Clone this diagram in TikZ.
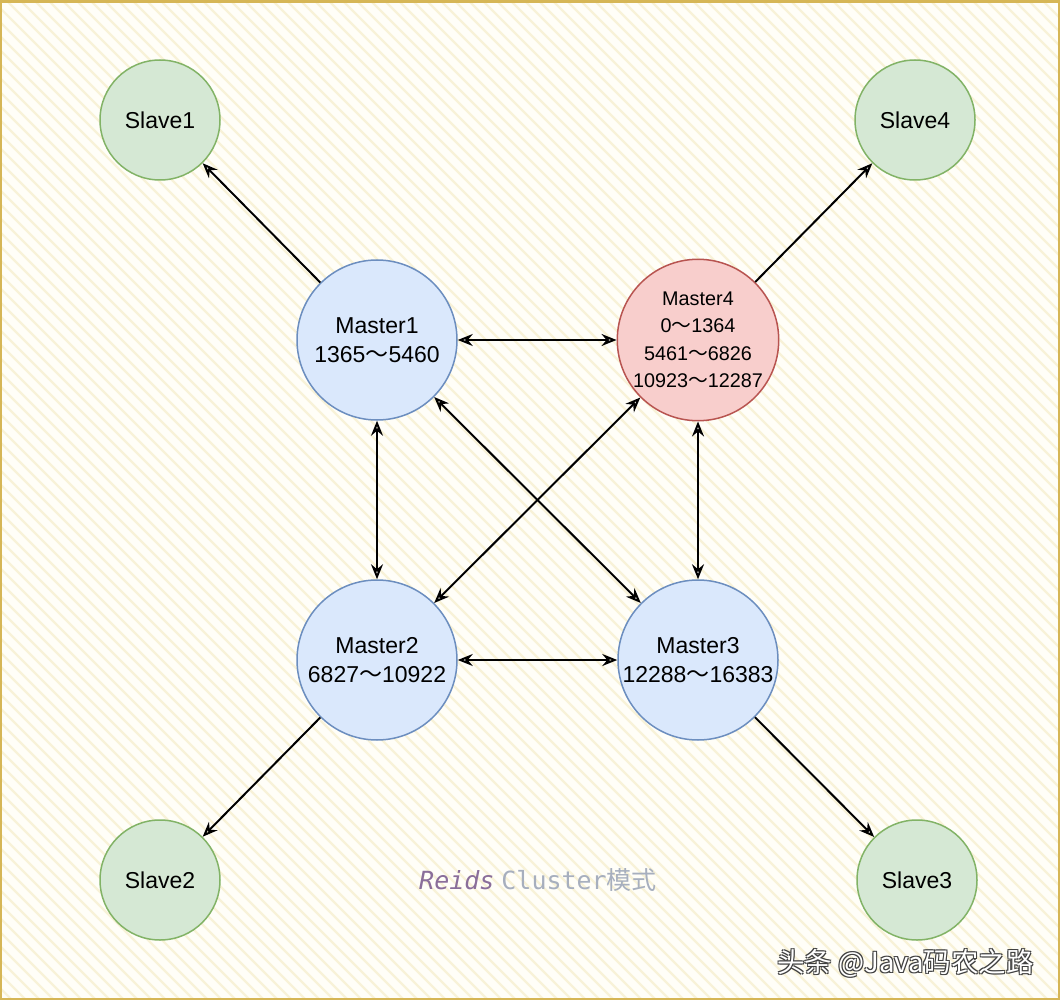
\documentclass[tikz,border=0pt]{standalone}
\usepackage{fontspec}
\setmainfont{Liberation Sans}
\newfontfamily\cjk{Noto Sans CJK SC}
\newfontfamily\mymono{DejaVu Sans Mono}
\usetikzlibrary{arrows.meta}
\definecolor{bgcream}{HTML}{FFFEF8}
\definecolor{hatchc}{HTML}{F8F2D8}
\definecolor{framec}{HTML}{D6B656}
\definecolor{gfill}{HTML}{D5E8D4}
\definecolor{gline}{HTML}{82B366}
\definecolor{bfill}{HTML}{DAE8FC}
\definecolor{bline}{HTML}{6C8EBF}
\definecolor{rfill}{HTML}{F8CECC}
\definecolor{rline}{HTML}{B85450}
\definecolor{purp}{HTML}{8A6E9A}
\definecolor{graytxt}{HTML}{A7AFBE}
\newcommand\sq{{\cjk ～}}
\tikzset{
  slave/.style={circle,draw=gline,fill=gfill,line width=1.5pt,minimum size=120pt,inner sep=0pt,
    font=\fontsize{23}{28}\selectfont},
  master/.style={circle,draw=bline,fill=bfill,line width=1.5pt,minimum size=160pt,inner sep=0pt,
    align=center,font=\fontsize{23}{29}\selectfont},
  redmaster/.style={circle,draw=rline,fill=rfill,line width=1.5pt,minimum size=160pt,inner sep=0pt,
    align=center,font=\fontsize{19.8}{27.5}\selectfont},
  conn/.style={line width=2pt,-{Stealth[open,length=15pt,width=12pt,inset=5pt]}},
  biconn/.style={line width=2pt,{Stealth[open,length=15pt,width=12pt,inset=5pt]}-{Stealth[open,length=15pt,width=12pt,inset=5pt]}},
  hatch/.style={hatchc,line width=2.2pt},
  wm/.style={font=\cjk\fontsize{27.5}{32}\selectfont,inner sep=0pt}
}
\begin{document}
\begin{tikzpicture}[x=1pt,y=-1pt]
\useasboundingbox (0,0) rectangle (1060,1000);
\fill[bgcream] (0,0) rectangle (1060,1000);
\begin{scope}
  \clip (0,0) rectangle (1060,1000);
  \foreach \i in {-1100,-1086,...,1070} \draw[hatch] (\i,0) -- ++(1000,1000);
\end{scope}
\draw[framec,line width=2pt] (1,1.5) rectangle (1059,999);
\draw[framec,line width=3.5pt] (0,1.5) -- (1060,1.5);

\node[slave] (s1) at (160,120) {Slave1};
\node[slave] (s4) at (915,120) {Slave4};
\node[slave] (s2) at (160,880) {Slave2};
\node[slave] (s3) at (917,880) {Slave3};

\node[master] (m1) at (377,340) {Master1\\1365\sq5460};
\node[redmaster] (m4) at (698,340) {Master4\\0\sq1364\\5461\sq6826\\10923\sq12287};
\node[master] (m2) at (377,660) {Master2\\6827\sq10922};
\node[master] (m3) at (698,660) {Master3\\12288\sq16383};

\draw[conn] (m1) -- (s1);
\draw[conn] (m4) -- (s4);
\draw[conn] (m2) -- (s2);
\draw[conn] (m3) -- (s3);
\draw[biconn] (m1) -- (m4);
\draw[biconn] (m1) -- (m2);
\draw[biconn] (m4) -- (m3);
\draw[biconn] (m2) -- (m3);
\draw[biconn] (m1) -- (m3);
\draw[biconn] (m2) -- (m4);

\node[font=\fontsize{25}{30}\selectfont] (title) at (538,880)
  {{\mymono\itshape\color{purp}Reids} {\mymono\color{graytxt}Cluster}{\cjk\color{graytxt}模式}};

\node[wm,text=black!75] (wm1) at (906.5,964) {头条 @Java码农之路};
\node[wm,text=black!75] (wm2) at (904.5,962) {头条 @Java码农之路};
\node[wm,text=black!75] (wm3) at (906.5,962) {头条 @Java码农之路};
\node[wm,text=black!75] (wm4) at (904.5,964) {头条 @Java码农之路};
\node[wm,text=white] (wm5) at (905.5,963) {头条 @Java码农之路};
\end{tikzpicture}
\end{document}
